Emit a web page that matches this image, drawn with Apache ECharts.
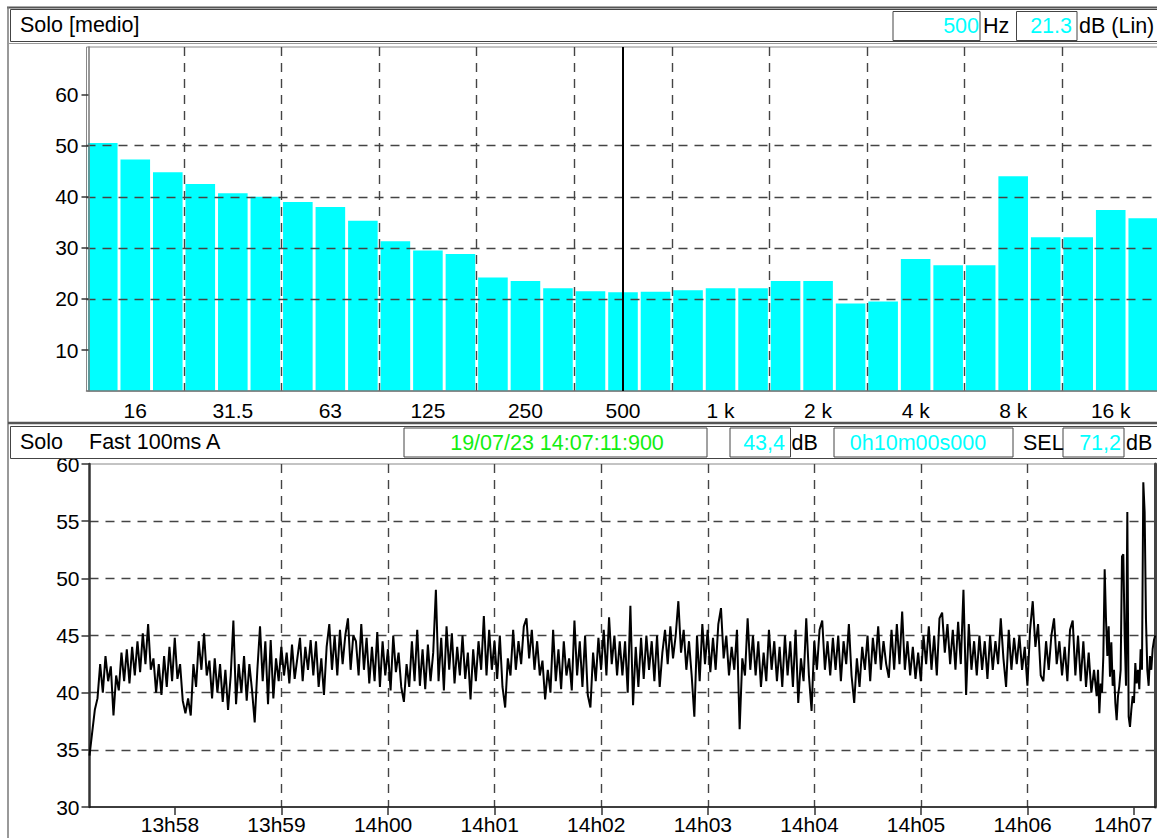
<!DOCTYPE html>
<html>
<head>
<meta charset="utf-8">
<title>Solo</title>
<script src="https://cdn.jsdelivr.net/npm/echarts@6/dist/echarts.min.js"></script>
<style>
  html, body { margin: 0; padding: 0; background: #fff; }
  #main { width: 1157px; height: 838px; }
</style>
</head>
<body>
<div id="main"></div>
<script>
// --- spectre 1/3 d'octave (haut) ---
var bands = ['12.5', '16', '20', '25', '31.5', '40', '50', '63', '80', '100', '125', '160', '200', '250', '315', '400',
  '500', '630', '800', '1 k', '1.25 k', '1.6 k', '2 k', '2.5 k', '3.15 k', '4 k', '5 k', '6.3 k', '8 k', '10 k',
  '12.5 k', '16 k', '20 k'];
var spectrum = [50.5, 47.3, 44.8, 42.5, 40.7, 40.0, 39.0, 38.0, 35.3, 31.3, 29.5, 28.8, 24.2, 23.5, 22.1, 21.5,
  21.3, 21.4, 21.7, 22.1, 22.1, 23.5, 23.5, 19.1, 19.5, 27.8, 26.6, 26.6, 44.0, 32.1, 32.1, 37.4, 35.8];
var levelTicks = [10, 20, 30, 40, 50, 60];
var cursorBand = '500';
var cursorLevel = '21.3';

// --- evolution temporelle (bas), Fast 100ms A ---
var startMin = 57 + 11.9 / 60;   // 13h57:11.9, en minutes apres 13h00
var step = 1.5;                  // s
var segA = [34.5, 36.5, 38.5, 39.5, 42.5, 40.0, 43.2, 41.0, 42.3, 38.0,
  41.5, 40.2, 43.5, 41.0, 43.8, 40.8, 44.0, 41.5, 44.5, 41.8,
  45.2, 42.5, 46.0, 42.0, 43.0, 40.0, 42.5, 39.8, 43.2, 40.5,
  44.0, 41.0, 44.8, 41.2, 42.5, 39.3, 38.2, 39.5, 38.0, 42.5,
  40.5, 44.5, 42.0, 45.2, 41.5, 42.8, 39.5, 43.0, 40.0, 42.5,
  39.2, 42.0, 38.5, 41.5, 46.3, 39.0, 42.5, 40.0, 43.2, 39.3,
  42.5, 40.2, 37.4, 42.0, 45.8, 41.0, 44.5, 39.0, 44.6, 39.5,
  43.0, 41.0, 44.0, 41.5, 43.5, 40.8, 44.2, 41.2, 43.0, 44.8,
  41.0, 44.0, 42.0, 44.6, 41.5, 44.5, 40.5, 43.0, 39.8, 44.0,
  46.0, 42.0, 45.0, 41.5, 45.5, 42.5, 45.0, 46.5, 42.0, 45.0];
var segB = [44.5, 41.5, 46.0, 42.0, 44.8, 40.8, 44.0, 41.0, 45.3, 40.5,
  44.5, 41.5, 43.8, 40.2, 45.0, 41.8, 43.5, 40.5, 39.2, 42.5,
  40.5, 44.5, 41.0, 45.5, 40.6, 43.8, 40.3, 44.2, 41.0, 43.5,
  49.0, 41.0, 44.8, 40.2, 45.8, 42.0, 45.2, 40.8, 44.0, 41.5,
  45.0, 41.2, 43.5, 39.4, 43.8, 41.0, 44.5, 42.0, 46.7, 41.5,
  45.5, 42.0, 44.5, 41.2, 45.0, 40.5, 38.7, 43.0, 41.5, 45.5,
  42.0, 44.5, 42.5, 45.8, 46.5, 43.0, 45.5, 42.0, 44.5, 41.5,
  42.8, 39.4, 42.0, 40.0, 45.5, 41.0, 43.8, 40.3, 44.5, 41.5,
  43.0, 40.2, 46.3, 41.5, 44.5, 40.5, 45.0, 39.8, 38.7, 43.5,
  41.0, 44.8, 42.0, 45.5, 41.5, 46.6, 42.5, 45.0, 41.5, 44.5];
var segC = [41.5, 44.5, 40.0, 47.6, 38.9, 44.0, 40.5, 44.8, 41.2, 45.0,
  42.0, 44.5, 41.0, 45.0, 40.5, 43.5, 45.5, 42.5, 45.8, 43.0,
  45.0, 48.0, 43.5, 45.5, 42.0, 44.5, 41.5, 37.9, 45.0, 41.0,
  46.0, 42.5, 45.5, 41.8, 44.8, 42.0, 46.0, 47.4, 43.0, 45.0,
  41.5, 44.0, 42.0, 45.5, 36.8, 43.0, 41.5, 46.5, 42.0, 45.0,
  41.5, 44.5, 40.5, 43.5, 41.0, 45.5, 42.0, 44.5, 41.0, 44.0,
  40.5, 45.0, 41.5, 44.5, 40.5, 45.5, 39.1, 43.0, 41.0, 46.5,
  41.5, 38.4, 44.5, 42.0, 45.5, 46.3, 42.0, 44.5, 41.5, 44.8,
  42.0, 45.0, 41.0, 44.5, 42.5, 46.0, 41.5, 39.1, 43.0, 40.5,
  44.0, 42.0, 45.0, 41.0, 44.8, 42.5, 45.8, 42.0, 44.5, 42.5];
var segD = [41.3, 45.5, 42.0, 46.0, 42.5, 47.1, 42.0, 44.5, 41.5, 44.0,
  41.2, 43.5, 41.0, 45.0, 42.5, 45.8, 42.0, 45.0, 41.5, 46.5,
  47.0, 43.5, 46.0, 42.5, 45.5, 42.0, 46.2, 42.5, 49.0, 39.8,
  46.0, 42.0, 44.5, 41.5, 45.0, 42.0, 44.5, 41.2, 45.0, 42.0,
  44.5, 42.5, 46.5, 43.0, 40.5, 45.5, 42.0, 44.8, 42.5, 45.0,
  42.0, 44.0, 40.6, 45.5, 48.0, 44.0, 46.0, 41.5, 41.0, 44.5,
  42.0, 45.0, 46.5, 42.5, 44.5, 41.5, 44.0, 41.0, 45.5, 46.3,
  41.5, 45.0, 41.0, 44.5, 40.5, 43.5, 40.0, 42.0];
// fin de mesure, plus detaillee (pas 0.75 s a partir de 567 s)
var tailStart = 567;
var tailStep = 0.75;
var tail = [39.7, 42.0, 38.2, 40.8, 40.0, 43.2, 50.8, 46.4, 43.2, 45.8,
  41.4, 44.4, 40.6, 42.0, 39.1, 37.6, 39.7, 40.6, 42.0, 51.9,
  52.1, 45.0, 40.6, 55.8, 37.9, 37.0, 38.5, 39.7, 39.1, 42.6,
  40.8, 42.0, 40.3, 43.8, 42.0, 58.4, 55.8, 46.4, 42.0, 40.6,
  43.2, 42.0, 43.8, 44.6, 45.0];
var minuteTicks = [58, 59, 60, 61, 62, 63, 64, 65, 66, 67];
var minuteLabels = ['13h58', '13h59', '14h00', '14h01', '14h02', '14h03', '14h04', '14h05', '14h06', '14h07'];

var header = {
  title1: 'Solo [medio]', freq: '500', level: cursorLevel,
  title2: 'Solo', mode: 'Fast 100ms A', date: '19/07/23 14:07:11:900',
  leq: '43,4', duration: '0h10m00s000', sel: '71,2'
};

var trace = segA.concat(segB, segC, segD).map(function (v, i) {
  return [startMin + i * step / 60, v];
});
tail.forEach(function (v, j) {
  trace.push([startMin + (tailStart + j * tailStep) / 60, v]);
});

var FONT = '"Liberation Sans", Arial, sans-serif';
var CYAN = '#00ffff';
var GREEN = '#12ee12';
var dash = [9, 7];
var labelStyle = { color: '#000', fontSize: 21, fontFamily: FONT };
var gridLine = { color: '#444', type: dash, width: 1.4 };

function txt(x, y, s, color, align) {
  return { type: 'text', x: x, y: y, z: 20, silent: true,
    style: { text: s, fill: color || '#000', font: '21.5px ' + FONT, textAlign: align || 'left', textVerticalAlign: 'middle' } };
}
function box(x, y, w, h) {
  return { type: 'rect', z: 19, silent: true, shape: { x: x, y: y, width: w, height: h },
    style: { fill: '#fff', stroke: '#444', lineWidth: 1 } };
}
function line(x1, y1, x2, y2, color, w) {
  return { type: 'line', z: 18, silent: true, shape: { x1: x1, y1: y1, x2: x2, y2: y2 },
    style: { stroke: color, lineWidth: w } };
}

var everyThird = function (i) { return i % 3 === 1; };

// etiquettes horaires un peu decalees a gauche, la derniere rentree dans le cadre
function timeLabel(v) {
  var k = minuteTicks.indexOf(Math.round(v));
  if (k < 0) return '';
  return k === minuteTicks.length - 1 ? '{last|' + minuteLabels[k] + '}' : '{t|' + minuteLabels[k] + '}';
}

var myChart = echarts.init(document.getElementById('main'), null, { renderer: 'svg' });

var option = {
  animation: false,
  backgroundColor: '#fff',
  grid: [
    { left: 86.5, top: 47, width: 1073, height: 344, outerBoundsMode: 'none', containLabel: false,
      show: true, borderColor: '#888', borderWidth: 1 },
    { left: 89.5, top: 464, right: 1.7, height: 343, outerBoundsMode: 'none', containLabel: false,
      show: true, borderColor: '#888', borderWidth: 1 }
  ],
  xAxis: [
    {
      type: 'category', gridIndex: 0, data: bands, z: 3,
      axisLine: { lineStyle: { color: '#777', width: 1.5 } },
      axisTick: { alignWithLabel: true, interval: everyThird, length: 6, lineStyle: { color: '#333', width: 1.5 } },
      axisLabel: Object.assign({ interval: everyThird, margin: 9 }, labelStyle),
      splitLine: { show: true, interval: 2, showMinLine: false, lineStyle: gridLine }
    },
    {
      type: 'value', gridIndex: 1, min: startMin, max: startMin + 10, splitNumber: 10, z: 3,
      axisLine: { onZero: false, lineStyle: { color: '#111', width: 1.5 } },
      axisTick: { customValues: minuteTicks, length: 8, lineStyle: { color: '#333', width: 1.5 } },
      axisLabel: Object.assign({
        customValues: minuteTicks, margin: 7, hideOverlap: false, formatter: timeLabel,
        rich: {
          t: { fontSize: 21, fontFamily: FONT, color: '#000', padding: [0, 10, 0, 0] },
          last: { fontSize: 21, fontFamily: FONT, color: '#000', padding: [0, 22, 0, 0] }
        }
      }, labelStyle),
      splitLine: { show: true, showMinLine: false, showMaxLine: false, lineStyle: gridLine }
    }
  ],
  yAxis: [
    {
      type: 'value', gridIndex: 0, min: 2, max: 69.3, splitNumber: 7, offset: -2, z: 3,
      axisLine: { show: true, onZero: false, lineStyle: { color: '#777', width: 1.5 } },
      axisTick: { show: true, customValues: levelTicks, length: 7, lineStyle: { color: '#333', width: 1.5 } },
      axisLabel: Object.assign({ customValues: levelTicks, margin: 10 }, labelStyle),
      splitLine: { show: true, showMinLine: false, showMaxLine: false, lineStyle: gridLine }
    },
    {
      type: 'value', gridIndex: 1, min: 30, max: 60, interval: 5, z: 3,
      axisLine: { show: true, onZero: false, lineStyle: { color: '#333', width: 2.5 } },
      axisTick: { show: true, length: 8, lineStyle: { color: '#333', width: 1.5 } },
      axisLabel: Object.assign({ margin: 10 }, labelStyle),
      splitLine: { show: true, showMinLine: false, showMaxLine: false, lineStyle: gridLine }
    },
    {
      type: 'value', gridIndex: 1, position: 'right', min: 30, max: 60, z: 3,
      axisLine: { show: true, onZero: false, lineStyle: { color: '#444', width: 3 } },
      axisTick: { show: false }, axisLabel: { show: false }, splitLine: { show: false }
    }
  ],
  series: [
    {
      type: 'bar', xAxisIndex: 0, yAxisIndex: 0, data: spectrum,
      barCategoryGap: '9%',
      itemStyle: { color: CYAN },
      markLine: {
        silent: true, symbol: 'none', label: { show: false },
        lineStyle: { color: '#000', width: 2, type: 'solid' },
        data: [{ xAxis: cursorBand }]
      }
    },
    {
      type: 'line', xAxisIndex: 1, yAxisIndex: 1, data: trace,
      showSymbol: false, symbol: 'none', sampling: 'none',
      lineStyle: { color: '#000', width: 2 }
    }
  ],
  graphic: [
    // cadre
    line(7, 7.5, 1157, 7.5, '#555', 2),
    line(8, 7, 8, 838, '#777', 1.5),
    // entete spectre
    box(10.5, 9.5, 1150, 32),
    line(8, 43.5, 1157, 43.5, '#999', 1),
    txt(20, 25, header.title1),
    box(893, 11.5, 87, 29), txt(979, 26, header.freq, CYAN, 'right'),
    txt(983, 26, 'Hz'),
    box(1016.5, 11.5, 60.5, 29), txt(1072, 26, header.level, CYAN, 'right'),
    txt(1079, 26, 'dB (Lin)'),
    // entete evolution
    line(8, 423, 1157, 423, '#555', 2.5),
    box(10.5, 426.5, 1150, 32),
    txt(20, 442, header.title2),
    txt(89, 442, header.mode),
    box(404, 428, 303, 29), txt(557, 442.5, header.date, GREEN, 'center'),
    box(730, 428, 60.5, 29), txt(785, 442.5, header.leq, CYAN, 'right'),
    txt(791.5, 442.5, 'dB'),
    box(834, 428, 179, 29), txt(918, 442.5, header.duration, CYAN, 'center'),
    txt(1023, 442.5, 'SEL'),
    box(1063, 428, 61, 29), txt(1121, 442.5, header.sel, CYAN, 'right'),
    txt(1126, 442.5, 'dB')
  ]
};

myChart.setOption(option);
</script>
</body>
</html>
